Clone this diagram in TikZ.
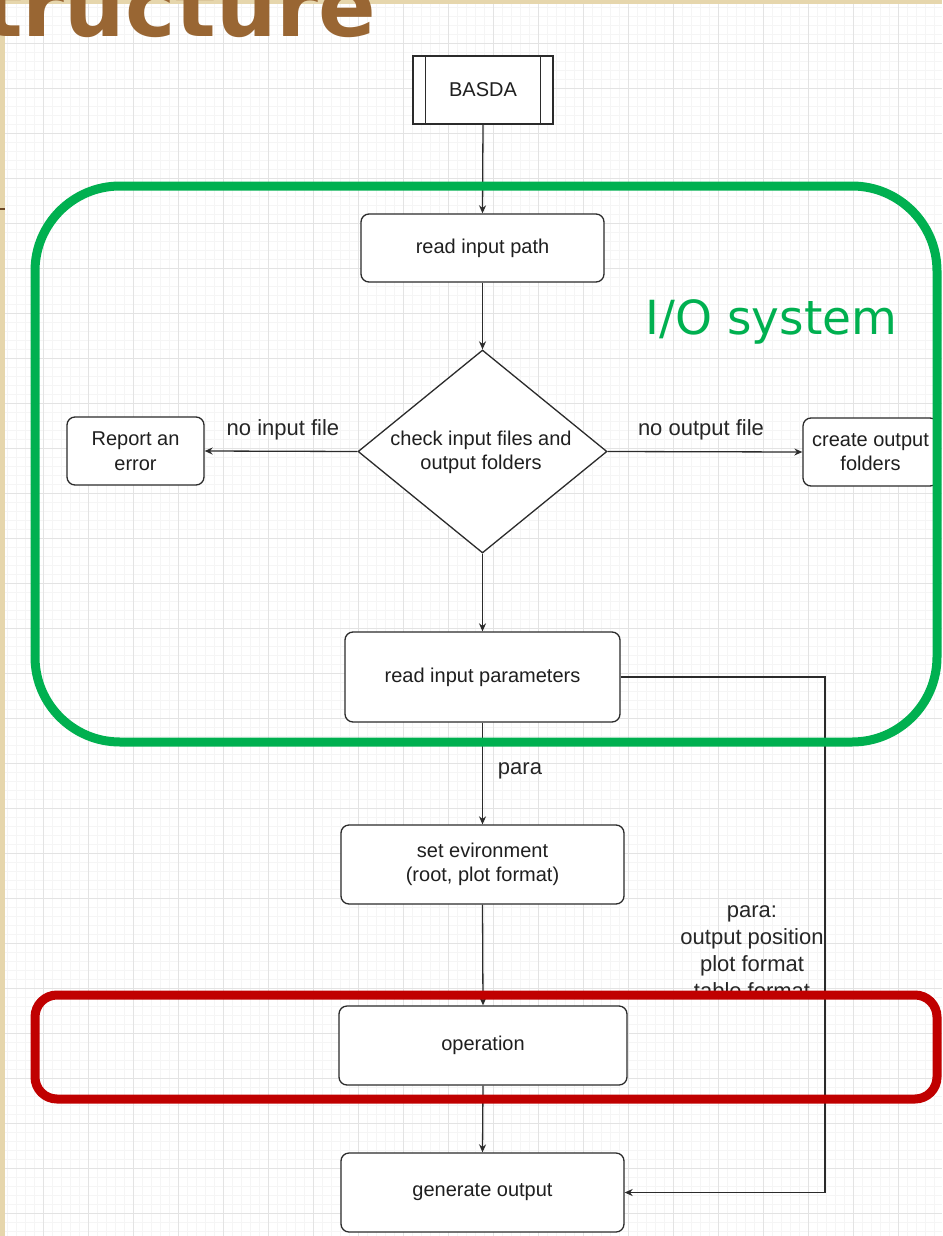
\documentclass[tikz,border=0pt]{standalone}
\usepackage{fontspec}
\setmainfont{Liberation Sans}
\newfontfamily\djv{DejaVu Sans}
\usetikzlibrary{shapes.geometric,arrows.meta,calc}
\definecolor{gridminor}{HTML}{F5F5F5}
\definecolor{gridmajor}{HTML}{E3E3E3}
\definecolor{beige}{HTML}{E6D6AC}
\definecolor{titlebrown}{HTML}{996633}
\definecolor{iogreen}{HTML}{00B050}
\definecolor{opred}{HTML}{C00000}
\definecolor{edgecol}{HTML}{2B2B2B}
\newcommand\ndfont{\fontsize{20}{24.5}\selectfont}
\newcommand\lblfont{\fontsize{22}{27}\selectfont}
\begin{document}
\begin{tikzpicture}[x=1pt,y=-1pt,
  box/.style={draw=edgecol,line width=1.3,rounded corners=8,fill=white,align=center,inner sep=0,font=\ndfont,text=black!88},
  conn/.style={draw=edgecol,line width=1.3,-{Stealth[length=8,width=7]}},
  lbl/.style={font=\lblfont,text=black!85,inner sep=0,align=center},
  frame/.style={line width=9,rounded corners=#1}]
\useasboundingbox (0,0) rectangle (942,1236);
\clip (0,0) rectangle (942,1236);
\fill[white] (0,0) rectangle (942,1236);
% grid
\foreach \g in {7,16,...,942} \draw[gridminor,line width=0.8] (\g,0) -- (\g,1236);
\foreach \g in {7,16,...,1236} \draw[gridminor,line width=0.8] (0,\g) -- (942,\g);
\foreach \g in {43,88,...,942} \draw[gridmajor,line width=0.9] (\g,0) -- (\g,1236);
\foreach \g in {43,88,...,1236} \draw[gridmajor,line width=0.9] (0,\g) -- (942,\g);
% slide border strips
\fill[beige] (0,0) rectangle (4.5,1236);
\fill[beige] (0,0) rectangle (942,4.5);
\draw[titlebrown!70!black,line width=1.5] (0,209) -- (4.5,209);
% title
\node[anchor=base west,inner sep=0,text=titlebrown,font={\djv\bfseries\fontsize{85}{90}\selectfont}] (title) at (-18,37) {tructure};
% nodes
\node[draw=edgecol,line width=1.3,fill=white,minimum width=140,minimum height=68,inner sep=0,font=\ndfont,text=black!88] (basda) at (483,90) {BASDA};
\draw[edgecol,line width=1.3] ([xshift=13]basda.north west) -- ([xshift=13]basda.south west);
\draw[edgecol,line width=1.3] ([xshift=-13]basda.north east) -- ([xshift=-13]basda.south east);
\node[box,minimum width=243,minimum height=68] (rip) at (482.5,248) {read input path};
\node[diamond,draw=edgecol,line width=1.3,fill=white,minimum width=249,minimum height=203,aspect=1.227,inner sep=0] (chk) at (482.5,451.5) {};
\node[font=\ndfont,text=black!88,align=center,inner sep=0] (chktxt) at (481,452.5) {check input files and\\output folders};
\node[box,minimum width=137,minimum height=68] (err) at (135.5,451) {Report an\\error};
\node[box,minimum width=135,minimum height=68] (cof) at (870.5,452) {create output\\folders};
\node[box,minimum width=275,minimum height=90] (rpar) at (482.5,677) {read input parameters};
\node[box,minimum width=283,minimum height=79] (env) at (482.5,864.5) {set evironment\\(root, plot format)};
\node[box,minimum width=288,minimum height=79] (op) at (483,1045.5) {operation};
\node[box,minimum width=283,minimum height=79] (gen) at (482.5,1192.5) {generate output};
% connectors
\draw[conn] (basda.south) -- (rip.north);
\draw[conn] (rip.south) -- (chk.north);
\draw[conn] (chk.west) -- (err.east);
\draw[conn] (chk.east) -- (cof.west);
\draw[conn] (chk.south) -- (rpar.north);
\draw[conn] (rpar.south) -- (env.north);
\draw[conn] (env.south) -- (op.north);
\draw[conn] (op.south) -- (gen.north);
\coordinate (turn) at (825,677);
\draw[conn] (rpar.east) -- (turn) |- (gen.east);
% labels
\node[lbl] (l1) at (283,430) {no input file};
\node[lbl] (l2) at (701,430) {no output file};
\node[lbl] (l3) at (520,771) {para};
\node[lbl] (l4) at (752,952) {para:\\output position\\plot format\\table format};
% frames
\draw[frame=85,iogreen] (35,186) rectangle (937,742);
\draw[frame=22,opred] (35,995) rectangle (937,1099);
\node[anchor=base,inner sep=0,text=iogreen,font={\djv\fontsize{47}{52}\selectfont}] (io) at (771.5,334) {I/O system};
\end{tikzpicture}
\end{document}
